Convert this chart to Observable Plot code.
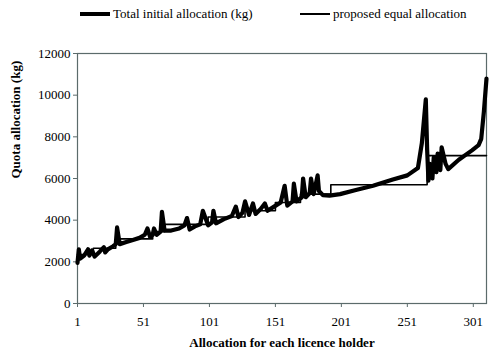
<!DOCTYPE html>
<html>
<head>
<meta charset="utf-8">
<script src="https://cdn.jsdelivr.net/npm/d3@7"></script>
<script src="https://cdn.jsdelivr.net/npm/@observablehq/plot@0.6"></script>
<style>
  body { margin: 0; background: #fff; }
  #wrap { position: relative; width: 500px; height: 352px; font-family: 'Liberation Serif', serif; }
  .leg { position: absolute; top: 6px; font-size: 13px; display: flex; align-items: center; white-space: nowrap; }
  .leg span.s { display: inline-block; width: 30px; background: #000; margin-right: 3px; }
  svg text { font-family: 'Liberation Serif', serif !important; }
</style>
</head>
<body>
<div id="wrap">
  <div class="leg" style="left:80px"><span class="s" style="height:4px"></span>Total initial allocation (kg)</div>
  <div class="leg" style="left:300px"><span class="s" style="height:2px"></span>proposed equal allocation</div>
  <div id="chart"></div>
</div>
<script>
// Total initial allocation (kg): vertices
const holderIdx = [1, 2, 3, 6, 9, 10, 12, 14, 18, 21, 22, 24, 28, 30, 31, 33, 38, 43, 48, 52, 54, 56, 58, 59, 61, 64, 65, 67, 72, 78, 82, 84, 86, 90, 94, 96, 100, 103, 104, 106, 112, 118, 121, 123, 126, 128, 131, 134, 136, 140, 143, 145, 150, 155, 158, 160, 164, 165, 167, 171, 172, 174, 177, 178, 180, 183, 184, 187, 192, 200, 212, 225, 240, 251, 259, 262, 265, 266, 267, 268, 270, 271, 273, 274, 276, 277, 280, 282, 290, 300, 305, 307, 309, 311];
const totalAlloc = [1950, 2600, 2150, 2300, 2600, 2300, 2550, 2250, 2500, 2700, 2450, 2600, 2750, 2850, 3650, 2850, 2950, 3050, 3150, 3300, 3600, 3200, 3300, 3600, 3300, 3450, 4400, 3500, 3500, 3600, 3750, 4100, 3550, 3700, 3800, 4450, 3750, 3900, 4450, 3850, 4050, 4200, 4650, 4150, 4350, 4900, 4250, 4800, 4300, 4550, 4800, 4450, 4650, 4850, 5650, 4700, 4900, 5750, 4900, 5100, 6000, 5100, 5300, 6000, 5250, 6150, 5400, 5200, 5180, 5250, 5450, 5650, 5950, 6150, 6500, 7700, 9800, 7400, 5900, 6700, 6000, 7000, 6300, 7200, 6400, 7500, 6700, 6450, 6900, 7350, 7600, 7900, 9200, 10800];

// Proposed equal allocation: step levels
const stepStart = [1, 13, 30, 58, 67, 100, 128, 151, 170, 193, 266];
const stepLevel = [2350, 2650, 3100, 3450, 3800, 4150, 4450, 4850, 5250, 5700, 7100];
const lastHolder = 311;

const xTicks = [1, 51, 101, 151, 201, 251, 301];
const yTicks = [0, 2000, 4000, 6000, 8000, 10000, 12000];

const total = holderIdx.map((x, i) => ({x, y: totalAlloc[i]}));
const equal = [];
stepStart.forEach((s, i) => {
  const e = i + 1 < stepStart.length ? stepStart[i + 1] : lastHolder;
  equal.push({x: s, y: stepLevel[i]}, {x: e, y: stepLevel[i]});
});

const chart = Plot.plot({
  width: 500,
  height: 352,
  marginTop: 53,
  marginBottom: 49,
  marginLeft: 77,
  marginRight: 14,
  style: {fontFamily: "'Liberation Serif', serif", fontSize: "13px", color: "#000", background: "#fff"},
  x: {domain: [1, 311], label: null},
  y: {domain: [0, 12000], label: null},
  marks: [
    Plot.frame({stroke: "#5b6b6b", strokeWidth: 1.2}),
    Plot.axisX({ticks: xTicks, tickFormat: d => String(d), tickSize: 4, tickPadding: 9, stroke: "#5b6b6b", label: null, fontSize: 13}),
    Plot.axisY({ticks: yTicks, tickFormat: d => String(d), tickSize: 4, tickPadding: 3, stroke: "#5b6b6b", label: null, fontSize: 13}),
    Plot.line(equal, {x: "x", y: "y", stroke: "#000", strokeWidth: 1.6}),
    Plot.line(total, {x: "x", y: "y", stroke: "#000", strokeWidth: 4.2, strokeLinejoin: "round"}),
    Plot.text(["Allocation for each licence holder"], {frameAnchor: "bottom", dy: 43, fontWeight: "bold", fontSize: 13}),
    Plot.text(["Quota allocation (kg)"], {frameAnchor: "left", dx: -62, rotate: -90, fontWeight: "bold", fontSize: 13})
  ]
});
document.getElementById("chart").appendChild(chart);
</script>
</body>
</html>
